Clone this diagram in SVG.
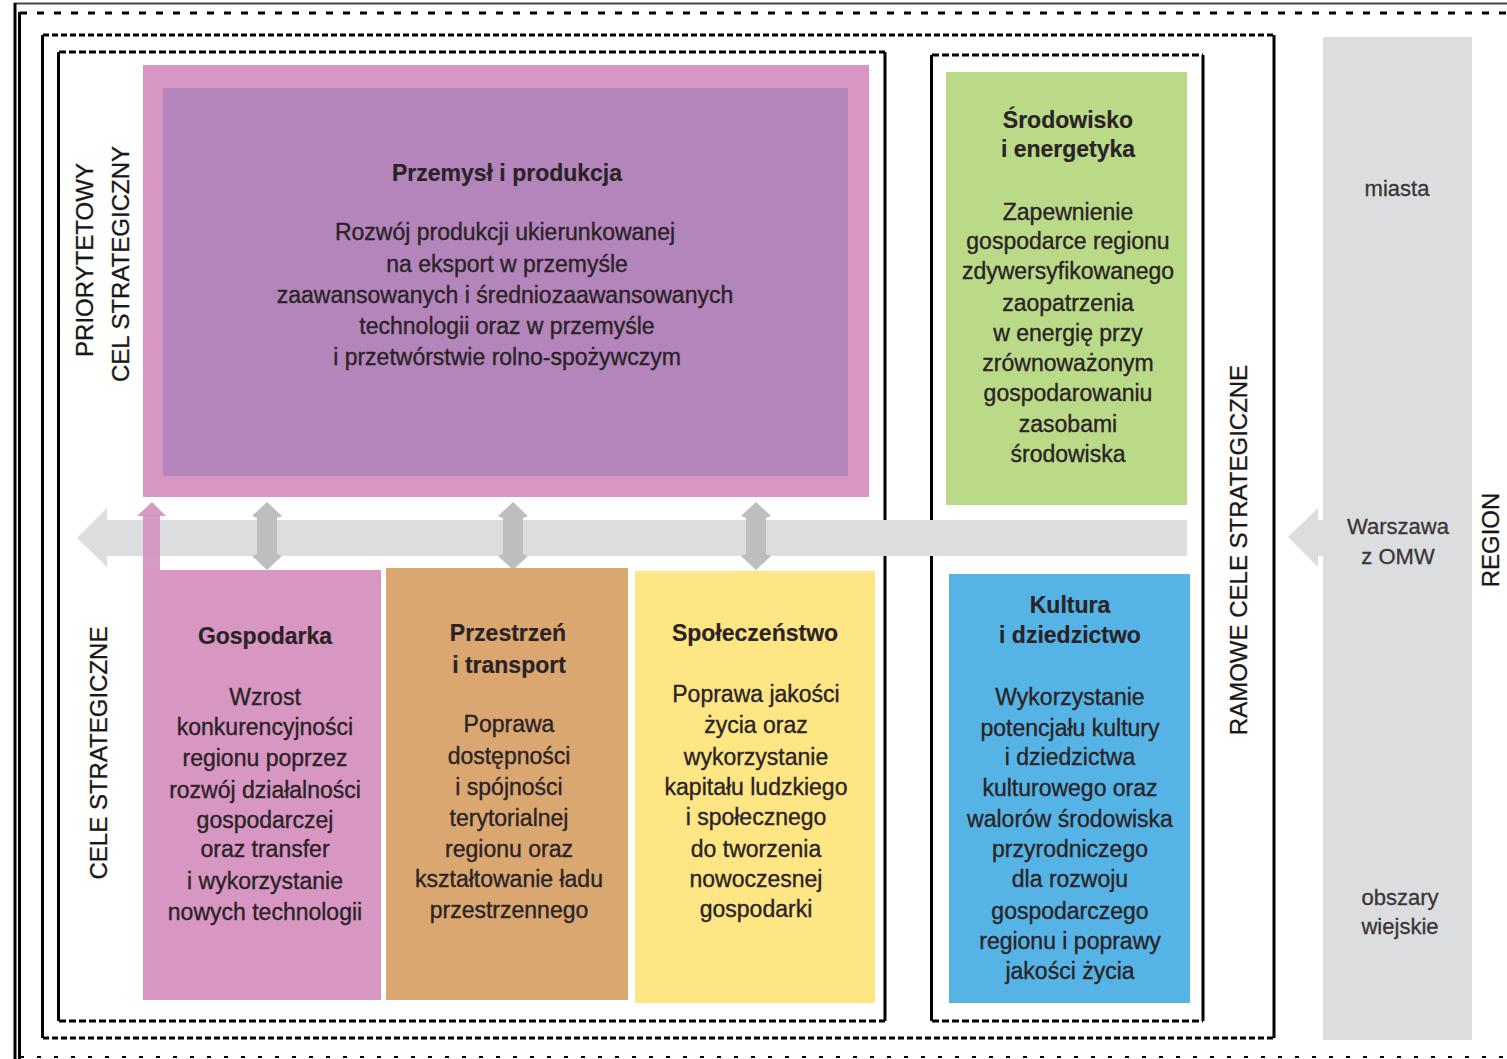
<svg xmlns="http://www.w3.org/2000/svg" width="1507" height="1059" viewBox="0 0 1507 1059">
<style>
.t{font-family:"Liberation Sans",Arial,sans-serif;font-size:23px;fill:#2a2326;stroke:#2a2326;stroke-width:0.35;text-anchor:middle}
.b{font-weight:bold;stroke-width:0.2}
.v{font-family:"Liberation Sans",Arial,sans-serif;font-size:24px;fill:#1a1718;stroke:#1a1718;stroke-width:0.3;text-anchor:middle}
.r{font-family:"Liberation Sans",Arial,sans-serif;font-size:22px;fill:#3a3536;stroke:#3a3536;stroke-width:0.3;text-anchor:middle}
.vl{stroke:#000;stroke-width:3;fill:none}
.d1{stroke:#000;stroke-width:3;stroke-dasharray:7 10;fill:none}
.d2{stroke:#000;stroke-width:3;stroke-dasharray:6 3;fill:none}
.d3{stroke:#000;stroke-width:3;stroke-dasharray:7 3;fill:none}
.dbl{fill:#bdbec0}
</style>
<rect width="1507" height="1059" fill="#fff"/>
<g id="frames">
<line x1="14" y1="3.5" x2="1507" y2="3.5" stroke="#444" stroke-width="2"/>
<line x1="15" y1="3" x2="15" y2="1059" class="vl" stroke-width="2"/>
<line x1="19.5" y1="12" x2="19.5" y2="1059" class="vl"/>
<line x1="20" y1="13" x2="1507" y2="13" class="d1"/>
<line x1="20" y1="1057" x2="1507" y2="1057" stroke="#000" stroke-width="2" stroke-dasharray="4 13"/>
<line x1="42.5" y1="35" x2="42.5" y2="1038" class="vl"/>
<line x1="1274" y1="35" x2="1274" y2="1038" class="vl"/>
<line x1="43" y1="35" x2="1274" y2="35" class="d2"/>
<line x1="43" y1="1038" x2="1274" y2="1038" class="d2"/>
<line x1="58.5" y1="52" x2="58.5" y2="1021" class="vl"/>
<line x1="885" y1="52" x2="885" y2="1021" class="vl"/>
<line x1="59" y1="52" x2="885" y2="52" class="d3"/>
<line x1="59" y1="1021" x2="885" y2="1021" class="d3"/>
<line x1="931.5" y1="55" x2="931.5" y2="1021" class="vl"/>
<line x1="1203" y1="55" x2="1203" y2="1021" class="vl"/>
<line x1="932" y1="55" x2="1203" y2="55" class="d3"/>
<line x1="932" y1="1021" x2="1203" y2="1021" class="d3"/>
</g>
<g id="region-band">
<rect x="1323" y="37" width="149" height="1003" fill="#dcdddf"/>
<text class="r" x="1397" y="196">miasta</text>
<text class="r" x="1398" y="534">Warszawa</text>
<text class="r" x="1398" y="564">z OMW</text>
<text class="r" x="1400" y="905">obszary</text>
<text class="r" x="1400" y="934">wiejskie</text>
</g>
<g id="connectors">
<rect x="106" y="520" width="1081" height="36" fill="#dcdddf"/>
<polygon points="77,538 107,508 107,567" fill="#dcdddf"/>
<rect x="1316" y="520" width="8" height="36" fill="#dcdddf"/>
<polygon points="1288,537 1318,508 1318,567" fill="#dcdddf"/>
<polygon class="dbl" points="267,502 282,516 277,518 277,554 282,556 267,570 252,556 257,554 257,518 252,516"/>
<polygon class="dbl" points="513,502 528,516 523,518 523,554 528,556 513,570 498,556 503,554 503,518 498,516"/>
<polygon class="dbl" points="756,502 771,516 766,518 766,554 771,556 756,570 741,556 746,554 746,518 741,516"/>
<rect x="143" y="515" width="17" height="56" fill="#d392bd" opacity="0.92"/>
<polygon points="152,502 166,516 137,516" fill="#d392bd" opacity="0.92"/>
</g>
<g id="przemysl">
<rect x="143" y="65" width="726" height="432" fill="#d896c2"/>
<rect x="163" y="88" width="685" height="388" fill="#b385bb"/>
<text class="t b" x="507" y="181">Przemysł i produkcja</text>
<text class="t" x="505" y="240">Rozwój produkcji ukierunkowanej</text>
<text class="t" x="507" y="272">na eksport w przemyśle</text>
<text class="t" x="505" y="303">zaawansowanych i średniozaawansowanych</text>
<text class="t" x="507" y="334">technologii oraz w przemyśle</text>
<text class="t" x="507" y="365">i przetwórstwie rolno-spożywczym</text>
</g>
<g id="labels-left">
<text class="v" transform="translate(93,260) rotate(-90)">PRIORYTETOWY</text>
<text class="v" transform="translate(129,264) rotate(-90)" font-size="25">CEL  STRATEGICZNY</text>
<text class="v" transform="translate(107,753) rotate(-90)">CELE  STRATEGICZNE</text>
<text class="v" transform="translate(1247,550) rotate(-90)" font-size="25.5">RAMOWE CELE STRATEGICZNE</text>
<text class="v" transform="translate(1499,540) rotate(-90)">REGION</text>
</g>
<g id="srodowisko">
<rect x="946" y="72" width="241" height="433" fill="#bbda88"/>
<text class="t b" x="1068" y="128">Środowisko</text>
<text class="t b" x="1068" y="157">i energetyka</text>
<text class="t" x="1068" y="220">Zapewnienie</text>
<text class="t" x="1068" y="249">gospodarce regionu</text>
<text class="t" x="1068" y="279">zdywersyfikowanego</text>
<text class="t" x="1068" y="311">zaopatrzenia</text>
<text class="t" x="1068" y="341">w energię przy</text>
<text class="t" x="1068" y="371">zrównoważonym</text>
<text class="t" x="1068" y="401">gospodarowaniu</text>
<text class="t" x="1068" y="432">zasobami</text>
<text class="t" x="1068" y="462">środowiska</text>
</g>
<g id="gospodarka">
<rect x="143" y="570" width="238" height="430" fill="#d896c2"/>
<text class="t b" x="265" y="644">Gospodarka</text>
<text class="t" x="265" y="705">Wzrost</text>
<text class="t" x="265" y="735">konkurencyjności</text>
<text class="t" x="265" y="766">regionu poprzez</text>
<text class="t" x="265" y="798">rozwój działalności</text>
<text class="t" x="265" y="828">gospodarczej</text>
<text class="t" x="265" y="857">oraz transfer</text>
<text class="t" x="265" y="889">i wykorzystanie</text>
<text class="t" x="265" y="920">nowych technologii</text>
</g>
<g id="przestrzen">
<rect x="386" y="568" width="242" height="432" fill="#daa771"/>
<text class="t b" x="508" y="641">Przestrzeń</text>
<text class="t b" x="509" y="673">i transport</text>
<text class="t" x="509" y="732">Poprawa</text>
<text class="t" x="509" y="764">dostępności</text>
<text class="t" x="509" y="795">i spójności</text>
<text class="t" x="509" y="826">terytorialnej</text>
<text class="t" x="509" y="857">regionu oraz</text>
<text class="t" x="509" y="887">kształtowanie ładu</text>
<text class="t" x="509" y="918">przestrzennego</text>
</g>
<g id="spoleczenstwo">
<rect x="635" y="571" width="240" height="432" fill="#fee684"/>
<text class="t b" x="755" y="641">Społeczeństwo</text>
<text class="t" x="756" y="702">Poprawa jakości</text>
<text class="t" x="756" y="733">życia oraz</text>
<text class="t" x="756" y="765">wykorzystanie</text>
<text class="t" x="756" y="795">kapitału ludzkiego</text>
<text class="t" x="756" y="825">i społecznego</text>
<text class="t" x="756" y="857">do tworzenia</text>
<text class="t" x="756" y="887">nowoczesnej</text>
<text class="t" x="756" y="917">gospodarki</text>
</g>
<g id="kultura">
<rect x="949" y="574" width="241" height="429" fill="#55b4e5"/>
<text class="t b" x="1070" y="613">Kultura</text>
<text class="t b" x="1070" y="643">i dziedzictwo</text>
<text class="t" x="1070" y="705">Wykorzystanie</text>
<text class="t" x="1070" y="736">potencjału kultury</text>
<text class="t" x="1070" y="765">i dziedzictwa</text>
<text class="t" x="1070" y="796">kulturowego oraz</text>
<text class="t" x="1070" y="827">walorów środowiska</text>
<text class="t" x="1070" y="857">przyrodniczego</text>
<text class="t" x="1070" y="887">dla rozwoju</text>
<text class="t" x="1070" y="919">gospodarczego</text>
<text class="t" x="1070" y="949">regionu i poprawy</text>
<text class="t" x="1070" y="979">jakości życia</text>
</g>
</svg>
